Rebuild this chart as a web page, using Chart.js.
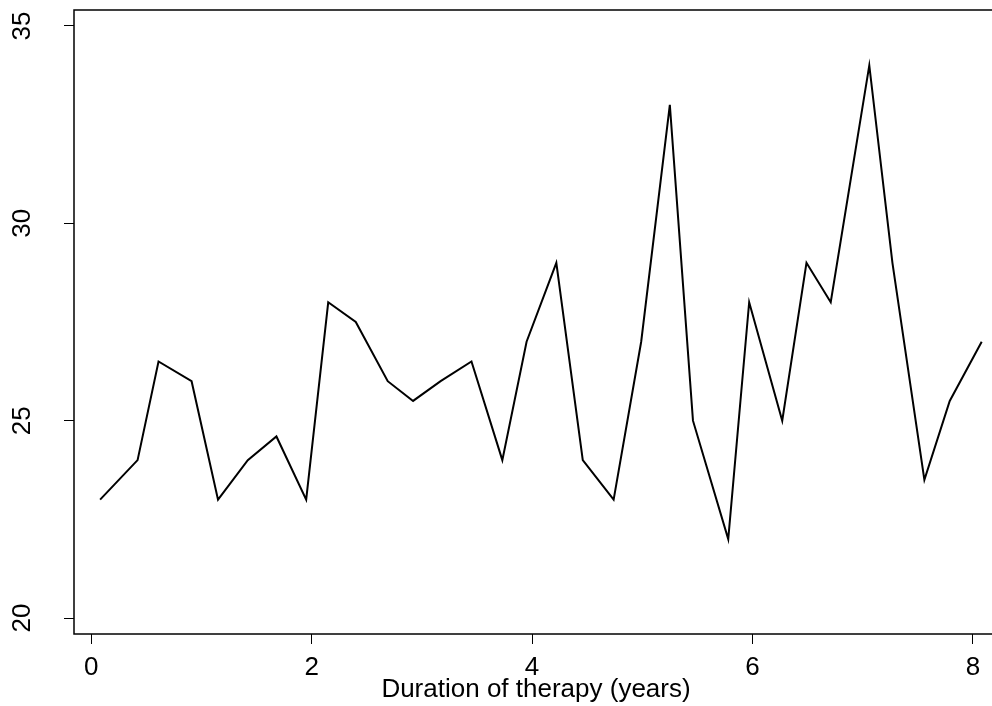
<!DOCTYPE html>
<html>
<head>
<meta charset="utf-8">
<script src="https://cdn.jsdelivr.net/npm/chart.js@4/dist/chart.umd.min.js"></script>
<style>
  html, body { margin: 0; padding: 0; background: #fff; overflow: hidden; }
  canvas { display: block; }
</style>
</head>
<body>
<canvas id="therapyChart" width="998" height="706"></canvas>
<script>
// Duration of therapy (years) vs. value
const durationYears = [0.08, 0.42, 0.61, 0.91, 1.15, 1.42, 1.68, 1.95, 2.15, 2.40, 2.69, 2.92, 3.17, 3.45, 3.73, 3.95,
                       4.22, 4.46, 4.74, 4.99, 5.25, 5.46, 5.78, 5.97, 6.27, 6.49, 6.71, 7.06, 7.27, 7.56, 7.79, 8.08];
const values = [23, 24, 26.5, 26, 23, 24, 24.6, 23, 28, 27.5, 26, 25.5, 26, 26.5, 24, 27,
                29, 24, 23, 27, 33, 25, 22, 28, 25, 29, 28, 34, 29, 23.5, 25.5, 27];
const xTicks = [0, 2, 4, 6, 8];
const yTicks = [20, 25, 30, 35];
const xTitle = 'Duration of therapy (years)';

const FONT = "'Liberation Sans', Arial, sans-serif";

const points = durationYears.map((x, i) => ({ x: x, y: values[i] }));

// plot box (R style frame)
const boxPlugin = {
    id: 'box',
    afterDraw(chart) {
        const a = chart.chartArea;
        const ctx = chart.ctx;
        ctx.save();
        ctx.strokeStyle = '#000';
        ctx.lineWidth = 1.5;
        ctx.strokeRect(a.left, a.top, a.right - a.left, a.bottom - a.top);
        ctx.restore();
    }
};

new Chart(document.getElementById('therapyChart'), {
    type: 'line',
    data: {
        datasets: [{
            data: points,
            borderColor: '#000',
            borderWidth: 2,
            pointRadius: 0,
            tension: 0,
            fill: false
        }]
    },
    options: {
        responsive: false,
        animation: false,
        layout: { padding: { top: 10, right: 0, bottom: 0, left: 0 } },
        plugins: { legend: { display: false }, tooltip: { enabled: false } },
        scales: {
            x: {
                type: 'linear',
                min: -0.157,
                max: 8.228,
                afterBuildTicks: s => { s.ticks = xTicks.map(v => ({ value: v })); },
                afterFit: s => { s.height = 72; s.paddingLeft = 0; s.paddingRight = 0; },
                border: { display: false },
                grid: { drawOnChartArea: false, drawTicks: true, tickLength: 10, color: '#000', lineWidth: 1 },
                ticks: { color: '#000', padding: 8, maxRotation: 0, font: { family: FONT, size: 26 } },
                title: {
                    display: true, text: xTitle, color: '#000',
                    padding: { top: 0, bottom: 1 },
                    font: { family: FONT, size: 26, lineHeight: 1.2 }
                }
            },
            y: {
                min: 19.595,
                max: 35.405,
                afterBuildTicks: s => { s.ticks = yTicks.map(v => ({ value: v })); },
                afterFit: s => { s.width = 74; s.paddingTop = 0; s.paddingBottom = 0; },
                border: { display: false },
                grid: { drawOnChartArea: false, drawTicks: true, tickLength: 10, color: '#000', lineWidth: 1 },
                ticks: {
                    color: '#000', padding: 26.5, minRotation: 90, maxRotation: 90, crossAlign: 'center',
                    font: { family: FONT, size: 26 }
                }
            }
        }
    },
    plugins: [boxPlugin]
});
</script>
</body>
</html>
